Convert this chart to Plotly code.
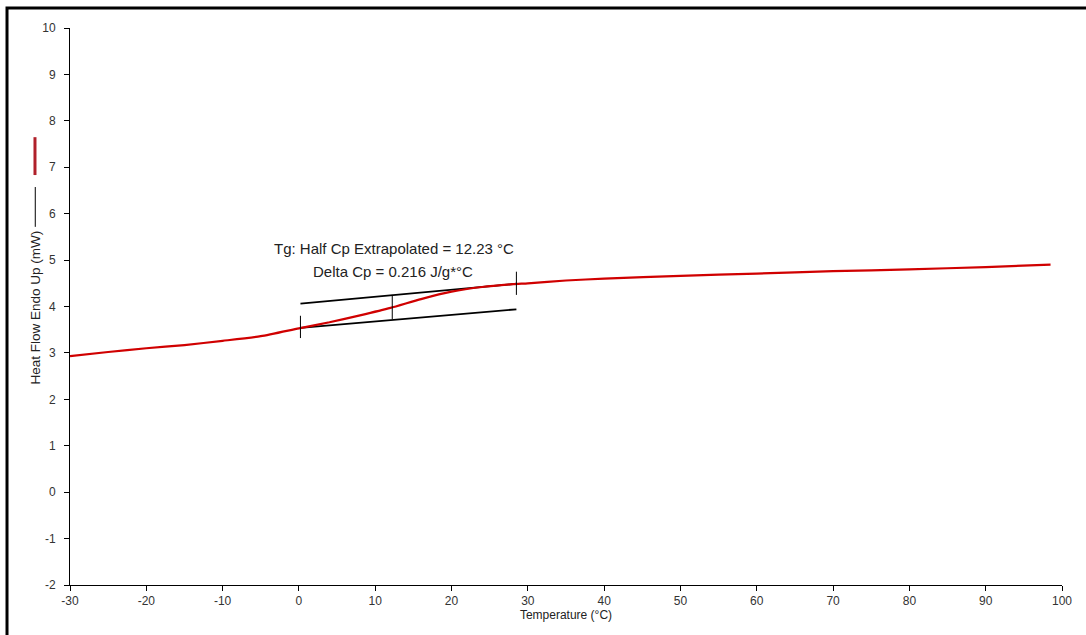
import plotly.graph_objects as go

# DSC heating scan: temperature (°C) vs heat flow (mW)
temperature = [-30, -25, -20, -15, -10, -5, 0, 4, 8, 12, 16, 20, 24, 28, 30,
               35, 40, 50, 60, 70, 80, 90, 98.5]
heat_flow = [2.93, 3.02, 3.10, 3.17, 3.26, 3.36, 3.53, 3.66, 3.81, 3.97, 4.16,
             4.32, 4.42, 4.48, 4.50, 4.56, 4.60, 4.66, 4.71, 4.76, 4.80, 4.85, 4.90]

# Glass-transition construction lines
onset_x, end_x = 0.2, 28.5
upper_tangent_y = [4.06, 4.49]
lower_tangent_y = [3.54, 3.94]
tg_half_cp = 12.23
tg_bar_y = [3.73, 4.25]
onset_bar_y = [3.32, 3.80]
end_bar_y = [4.25, 4.75]

tg_label = "Tg: Half Cp Extrapolated = 12.23 °C"
dcp_label = "Delta Cp = 0.216 J/g*°C"

x_ticks = list(range(-30, 101, 10))
y_ticks = list(range(-2, 11, 1))
x_tick_text = [str(v) for v in x_ticks]
y_tick_text = [str(v) for v in y_ticks]

FONT = "Liberation Sans, Arial, sans-serif"
BLACK_LINE = dict(color="black", width=1.8)

fig = go.Figure()

fig.add_trace(go.Scatter(x=[onset_x, end_x], y=upper_tangent_y, mode="lines",
                         line=BLACK_LINE, hoverinfo="skip"))
fig.add_trace(go.Scatter(x=[onset_x, end_x], y=lower_tangent_y, mode="lines",
                         line=BLACK_LINE, hoverinfo="skip"))
fig.add_trace(go.Scatter(x=temperature, y=heat_flow, mode="lines",
                         line=dict(color="#d00000", width=2.2, shape="spline", smoothing=0.6)))
fig.add_trace(go.Scatter(x=[tg_half_cp, tg_half_cp], y=tg_bar_y, mode="lines",
                         line=dict(color="black", width=1), hoverinfo="skip"))
fig.add_trace(go.Scatter(x=[onset_x, onset_x], y=onset_bar_y, mode="lines",
                         line=dict(color="black", width=1), hoverinfo="skip"))
fig.add_trace(go.Scatter(x=[end_x, end_x], y=end_bar_y, mode="lines",
                         line=dict(color="black", width=1), hoverinfo="skip"))

fig.add_annotation(x=12.5, y=5.26, text=tg_label, showarrow=False,
                   font=dict(family=FONT, size=15, color="#222"))
fig.add_annotation(x=12.35, y=4.76, text=dcp_label, showarrow=False,
                   font=dict(family=FONT, size=15, color="#222"))

# Y-axis caption with its trace key
fig.add_annotation(xref="paper", yref="paper", x=-0.0343, y=0.498,
                   xanchor="center", yanchor="middle",
                   text="Heat Flow Endo Up (mW)", textangle=-90, showarrow=False,
                   font=dict(family=FONT, size=13.5, color="#222"))
fig.add_shape(type="line", xref="paper", yref="paper",
              x0=-0.035, x1=-0.035, y0=0.643, y1=0.7145,
              line=dict(color="black", width=1))
fig.add_shape(type="line", xref="paper", yref="paper",
              x0=-0.0353, x1=-0.0353, y0=0.736, y1=0.804,
              line=dict(color="#b0202a", width=3))

# Outer frame
fig.add_shape(type="rect", xref="paper", yref="paper",
              x0=-0.0635, x1=1.2, y0=-0.3, y1=1.036,
              line=dict(color="black", width=3))

fig.update_layout(
    width=1086, height=635,
    margin=dict(l=70, r=24, t=28, b=50),
    paper_bgcolor="white", plot_bgcolor="white",
    showlegend=False,
    font=dict(family=FONT, color="#333"),
    xaxis=dict(range=[-30, 100], tickvals=x_ticks, ticktext=x_tick_text,
               showgrid=False, zeroline=False,
               showline=True, linecolor="black", linewidth=1,
               ticks="outside", ticklen=5, tickcolor="black",
               tickfont=dict(size=12, color="#333"),
               title=dict(text="Temperature (°C)", font=dict(size=12, color="#222"),
                          standoff=2)),
    yaxis=dict(range=[-2, 10], tickvals=y_ticks, ticktext=y_tick_text,
               showgrid=False, zeroline=False,
               showline=True, linecolor="black", linewidth=1,
               ticks="outside", ticklen=5, tickcolor="black",
               ticklabelstandoff=6,
               tickfont=dict(size=12, color="#333")),
)

fig.write_html("out.html")
